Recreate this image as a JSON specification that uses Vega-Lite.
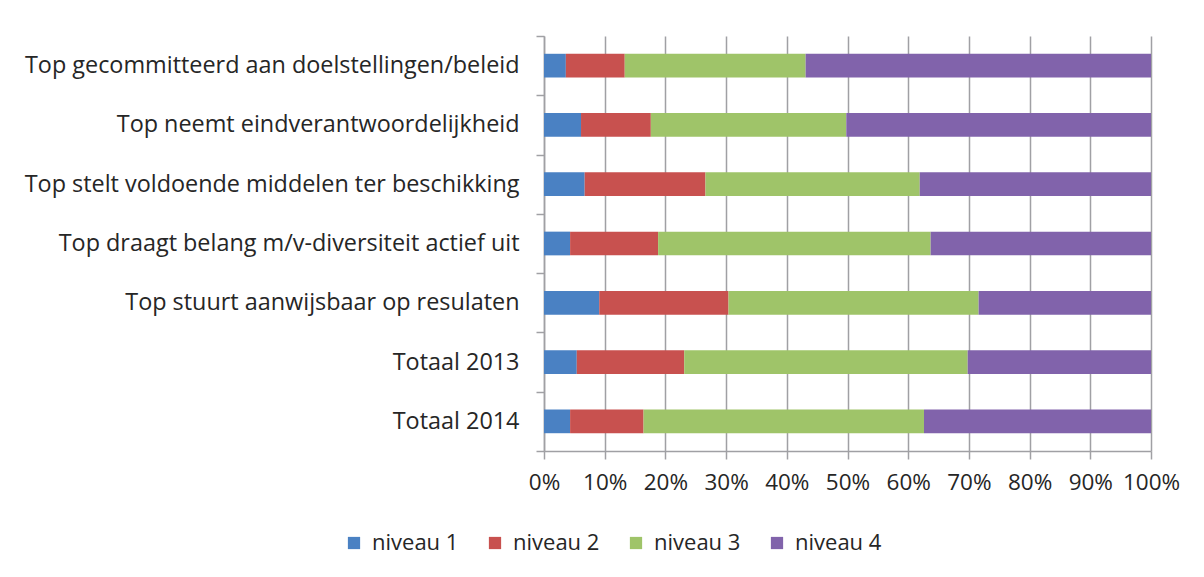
{
  "$schema": "https://vega.github.io/schema/vega-lite/v6.json",
  "autosize": "none",
  "width": 607,
  "height": 415,
  "padding": {"left": 544, "top": 36, "right": 53, "bottom": 126},
  "background": "white",
  "config": {
    "font": "Open Sans",
    "view": {"stroke": null},
    "axis": {"labelFont": "Open Sans", "labelFontSize": 23.4, "labelColor": "#262626", "domainColor": "#A0A0A4", "tickColor": "#A0A0A4", "gridColor": "#A0A0A4", "domainWidth": 1.5, "tickWidth": 1.5, "gridWidth": 1.5}
  },
  "data": {"values": [
    {"cat": "Top gecommitteerd aan doelstellingen/beleid", "niveau": "niveau 1", "v": 3.6},
    {"cat": "Top gecommitteerd aan doelstellingen/beleid", "niveau": "niveau 2", "v": 9.7},
    {"cat": "Top gecommitteerd aan doelstellingen/beleid", "niveau": "niveau 3", "v": 29.8},
    {"cat": "Top gecommitteerd aan doelstellingen/beleid", "niveau": "niveau 4", "v": 56.9},
    {"cat": "Top neemt eindverantwoordelijkheid", "niveau": "niveau 1", "v": 6.1},
    {"cat": "Top neemt eindverantwoordelijkheid", "niveau": "niveau 2", "v": 11.5},
    {"cat": "Top neemt eindverantwoordelijkheid", "niveau": "niveau 3", "v": 32.2},
    {"cat": "Top neemt eindverantwoordelijkheid", "niveau": "niveau 4", "v": 50.2},
    {"cat": "Top stelt voldoende middelen ter beschikking", "niveau": "niveau 1", "v": 6.7},
    {"cat": "Top stelt voldoende middelen ter beschikking", "niveau": "niveau 2", "v": 19.9},
    {"cat": "Top stelt voldoende middelen ter beschikking", "niveau": "niveau 3", "v": 35.3},
    {"cat": "Top stelt voldoende middelen ter beschikking", "niveau": "niveau 4", "v": 38.1},
    {"cat": "Top draagt belang m/v-diversiteit actief uit", "niveau": "niveau 1", "v": 4.3},
    {"cat": "Top draagt belang m/v-diversiteit actief uit", "niveau": "niveau 2", "v": 14.5},
    {"cat": "Top draagt belang m/v-diversiteit actief uit", "niveau": "niveau 3", "v": 44.9},
    {"cat": "Top draagt belang m/v-diversiteit actief uit", "niveau": "niveau 4", "v": 36.3},
    {"cat": "Top stuurt aanwijsbaar op resulaten", "niveau": "niveau 1", "v": 9.1},
    {"cat": "Top stuurt aanwijsbaar op resulaten", "niveau": "niveau 2", "v": 21.3},
    {"cat": "Top stuurt aanwijsbaar op resulaten", "niveau": "niveau 3", "v": 41.2},
    {"cat": "Top stuurt aanwijsbaar op resulaten", "niveau": "niveau 4", "v": 28.4},
    {"cat": "Totaal 2013", "niveau": "niveau 1", "v": 5.4},
    {"cat": "Totaal 2013", "niveau": "niveau 2", "v": 17.7},
    {"cat": "Totaal 2013", "niveau": "niveau 3", "v": 46.7},
    {"cat": "Totaal 2013", "niveau": "niveau 4", "v": 30.2},
    {"cat": "Totaal 2014", "niveau": "niveau 1", "v": 4.3},
    {"cat": "Totaal 2014", "niveau": "niveau 2", "v": 12.1},
    {"cat": "Totaal 2014", "niveau": "niveau 3", "v": 46.2},
    {"cat": "Totaal 2014", "niveau": "niveau 4", "v": 37.4}
  ]},
  "mark": {"type": "bar", "height": {"band": 0.4}},
  "encoding": {
    "y": {
      "field": "cat", "type": "nominal", "sort": null,
      "scale": {"paddingInner": 0, "paddingOuter": 0},
      "axis": {"title": null, "tickBand": "extent", "tickSize": 8, "labelPadding": 17, "labelLimit": 600, "grid": false}
    },
    "x": {
      "field": "v", "type": "quantitative", "stack": "normalize",
      "scale": {"domain": [0, 1], "nice": false},
      "axis": {"title": null, "format": ".0%", "values": [0, 0.1, 0.2, 0.3, 0.4, 0.5, 0.6, 0.7, 0.8, 0.9, 1], "tickSize": 8, "labelPadding": 12, "labelFontSize": 22.5, "grid": true, "labelFlush": false}
    },
    "color": {
      "field": "niveau", "type": "nominal",
      "scale": {"domain": ["niveau 1", "niveau 2", "niveau 3", "niveau 4"], "range": ["#4A81C3", "#C8514F", "#9FC469", "#8163AB"]},
      "legend": {"title": null, "orient": "none", "direction": "horizontal", "legendX": -201, "legendY": 496, "padding": 0, "symbolType": "square", "symbolSize": 150, "symbolStrokeWidth": 0, "labelFont": "Open Sans", "labelFontSize": 22, "labelColor": "#262626", "labelOffset": 7, "columnPadding": 25}
    },
    "order": {"field": "niveau", "type": "nominal"}
  }
}
